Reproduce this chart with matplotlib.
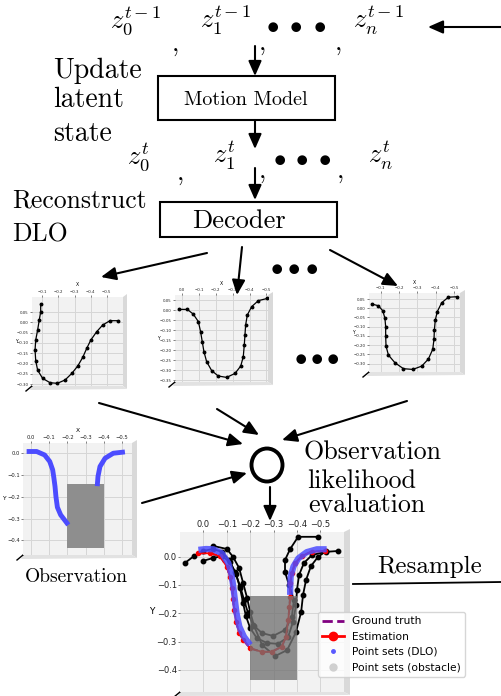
import numpy as np
import matplotlib.pyplot as plt
from matplotlib.patches import Rectangle, Ellipse, Polygon
from matplotlib.lines import Line2D

plt.rcParams['mathtext.fontset'] = 'cm'

W, H = 501, 696

# decoded DLO shapes (three particles)
p1_x = [-0.090, -0.090, -0.081, -0.071, -0.059, -0.055, -0.059, -0.071, -0.102, -0.148, -0.193,
        -0.241, -0.283, -0.320, -0.351, -0.376, -0.401, -0.438, -0.475, -0.520, -0.572]
p1_y = [0.089, 0.051, 0.011, -0.037, -0.086, -0.134, -0.186, -0.232, -0.272, -0.293, -0.296,
        -0.280, -0.248, -0.212, -0.170, -0.126, -0.086, -0.045, -0.013, 0.008, 0.008]
p2_x = [0.018, -0.030, -0.065, -0.096, -0.109, -0.119, -0.129, -0.145, -0.175, -0.214, -0.264,
        -0.314, -0.348, -0.363, -0.369, -0.373, -0.377, -0.387, -0.413, -0.453, -0.507]
p2_y = [0.003, 0.003, -0.020, -0.058, -0.108, -0.158, -0.208, -0.258, -0.303, -0.330, -0.337,
        -0.317, -0.280, -0.233, -0.175, -0.125, -0.075, -0.025, 0.017, 0.047, 0.058]
p3_x = [-0.051, -0.087, -0.111, -0.123, -0.127, -0.127, -0.129, -0.142, -0.178, -0.224, -0.275,
        -0.324, -0.360, -0.384, -0.391, -0.393, -0.398, -0.409, -0.433, -0.469, -0.519]
p3_y = [0.023, 0.014, -0.013, -0.054, -0.100, -0.151, -0.205, -0.254, -0.296, -0.328, -0.332,
        -0.314, -0.276, -0.223, -0.168, -0.118, -0.064, -0.018, 0.030, 0.060, 0.063]

# observation: DLO point set (two visible parts) and obstacle box
obs_left_x = [0.024, -0.031, -0.075, -0.103, -0.119, -0.126, -0.132, -0.137, -0.145, -0.163, -0.187, -0.205]
obs_left_y = [0.008, 0.008, -0.008, -0.038, -0.076, -0.115, -0.153, -0.199, -0.248, -0.283, -0.309, -0.329]
obs_right_x = [-0.364, -0.368, -0.379, -0.407, -0.452, -0.516]
obs_right_y = [-0.151, -0.107, -0.061, -0.023, 0.000, 0.006]
box_x = [-0.2, -0.4]
box_y = [-0.14, -0.435]

# resampled result
dlo_left_x = [0.021, -0.012, -0.043, -0.079, -0.107, -0.121, -0.128, -0.135, -0.142, -0.154, -0.174, -0.200]
dlo_left_y = [0.024, 0.027, 0.026, 0.012, -0.023, -0.065, -0.106, -0.153, -0.200, -0.247, -0.283, -0.312]
dlo_right_x = [-0.371, -0.371, -0.373, -0.385, -0.406, -0.442, -0.485, -0.527]
dlo_right_y = [-0.135, -0.118, -0.071, -0.035, -0.006, 0.016, 0.026, 0.026]
est_x = [0.021, -0.029, -0.071, -0.100, -0.114, -0.124, -0.127, -0.132, -0.140, -0.154, -0.171, -0.200,
         -0.250, -0.292, -0.335, -0.353, -0.363, -0.368, -0.371, -0.371, -0.378, -0.392, -0.421, -0.463, -0.520]
est_y = [0.012, 0.012, 0.002, -0.035, -0.071, -0.112, -0.150, -0.188, -0.230, -0.271, -0.294, -0.324,
         -0.336, -0.336, -0.318, -0.283, -0.224, -0.177, -0.141, -0.094, -0.059, -0.023, 0.002, 0.018, 0.020]
k1_x = [0.078, 0.040, 0.001, -0.041, -0.080, -0.110, -0.135, -0.157, -0.174, -0.191, -0.212, -0.251,
        -0.298, -0.349, -0.378, -0.387, -0.366, -0.349, -0.349, -0.371, -0.405, -0.490]
k1_y = [-0.022, 0.002, 0.020, 0.027, 0.017, -0.012, -0.054, -0.104, -0.153, -0.199, -0.241, -0.270,
        -0.280, -0.259, -0.213, -0.153, -0.100, -0.054, -0.012, 0.027, 0.070, 0.070]
k2_x = [0.001, -0.041, -0.080, -0.114, -0.140, -0.157, -0.170, -0.182, -0.200, -0.229, -0.272,
        -0.319, -0.362, -0.383, -0.396, -0.400, -0.409, -0.430, -0.465, -0.525, -0.576]
k2_y = [-0.015, -0.005, 0.002, -0.019, -0.061, -0.111, -0.164, -0.210, -0.252, -0.288, -0.305,
        -0.308, -0.284, -0.231, -0.171, -0.118, -0.065, -0.022, 0.006, 0.017, 0.020]
k3_x = [-0.041, -0.101, -0.127, -0.153, -0.170, -0.187, -0.200, -0.217, -0.251, -0.307, -0.358,
        -0.396, -0.418, -0.426, -0.439, -0.460, -0.490, -0.525]
k3_y = [0.038, 0.027, -0.001, -0.040, -0.093, -0.146, -0.195, -0.245, -0.312, -0.351, -0.330,
        -0.266, -0.195, -0.135, -0.082, -0.033, -0.001, 0.020]

fig = plt.figure(figsize=(W / 100, H / 100), dpi=100)

bg = fig.add_axes([0, 0, 1, 1])
bg.set_xlim(0, W); bg.set_ylim(H, 0); bg.axis('off')


def panel(x0, y0, x1, y1, xlim, ylim, xticks, yticks, fs, side=6):
    ax = fig.add_axes([x0 / W, 1 - y1 / H, (x1 - x0) / W, (y1 - y0) / H])
    ax.set_facecolor('#f2f2f2')
    ax.set_xlim(xlim); ax.set_ylim(ylim)
    ax.set_xticks(xticks); ax.set_yticks(yticks)
    ax.xaxis.tick_top()
    ax.tick_params(labelsize=fs, length=1.5, width=0.4, pad=0.8, colors='#222222')
    ax.grid(True, color='#d6d6d6', lw=0.7)
    ax.set_axisbelow(True)
    for s in ax.spines.values():
        s.set_visible(False)
    # fake 3d side panes
    bg.add_patch(Polygon([(x1, y0), (x1 + side, y0 - 3), (x1 + side, y1 + 3), (x1, y1)], fc='#d9d9d9', ec='none'))
    bg.add_patch(Polygon([(x0, y1), (x1, y1), (x1 + side, y1 + 3), (x0 - 2, y1 + 4)], fc='#e2e2e2', ec='none'))
    bg.plot([x0 - 6, x0], [y1 + 5, y1], color='k', lw=1)
    return ax


def small_labels(ax, fs, xl, yl):
    ax.xaxis.set_label_position('top')
    ax.set_xlabel('X', fontsize=fs + 0.5)
    ax.xaxis.set_label_coords(xl[0], xl[1])
    ax.set_ylabel('Y', fontsize=fs + 0.5, rotation=0, ha='right', va='center')
    ax.yaxis.set_label_coords(yl[0], yl[1])


xt = [0.0, -0.1, -0.2, -0.3, -0.4, -0.5]
yt_small = [0.05, 0.0, -0.05, -0.10, -0.15, -0.20, -0.25, -0.30]

ax1 = panel(32, 297, 123, 386, (-0.036, -0.601), (-0.309, 0.123), xt[1:], yt_small, 2.8, side=4)
ax1.plot(p1_x, p1_y, 'k-o', lw=0.9, ms=1.8)
small_labels(ax1, 2.8, (0.5, 1.12), (-0.16, 0.5))

ax2 = panel(175, 295, 268, 382, (0.043, -0.510), (-0.36, 0.075), xt, yt_small + [-0.35], 2.8, side=5)
ax2.plot(p2_x, p2_y, 'k-o', lw=0.9, ms=1.8)
small_labels(ax2, 2.8, (0.5, 1.12), (-0.16, 0.5))

ax3 = panel(369, 293, 460, 372, (-0.036, -0.533), (-0.346, 0.083), xt[1:], yt_small, 2.8, side=5)
ax3.plot(p3_x, p3_y, 'k-o', lw=0.9, ms=1.8)
small_labels(ax3, 2.8, (0.5, 1.12), (-0.16, 0.5))

ax4 = panel(23, 443, 132, 555, (0.044, -0.555), (-0.467, 0.047), xt, [0.0, -0.1, -0.2, -0.3, -0.4], 3.8, side=5)
ax4.add_patch(Rectangle((box_x[1], box_y[1]), box_x[0] - box_x[1], box_y[0] - box_y[1],
                        fc='#8e8e8e', ec='none', zorder=2))
ax4.plot(obs_left_x, obs_left_y, color='#4c4cff', lw=3.5, solid_capstyle='butt', zorder=3)
ax4.plot(obs_right_x, obs_right_y, color='#4c4cff', lw=3.5, solid_capstyle='butt', zorder=3)
small_labels(ax4, 3.8, (0.5, 1.1), (-0.155, 0.5))

ax5 = panel(180, 532, 344, 692, (0.0996, -0.601), (-0.478, 0.087), xt, [0.0, -0.1, -0.2, -0.3, -0.4], 6, side=6)
ax5.plot(est_x, est_y, color='purple', ls='--', lw=1.5, zorder=2)
for kx, ky in [(k1_x, k1_y), (k2_x, k2_y), (k3_x, k3_y)]:
    ax5.plot(kx, ky, 'k-o', lw=1.3, ms=3.2, zorder=3)
ax5.plot(est_x, est_y, color='red', marker='o', lw=1.3, ms=3, zorder=4)
ax5.add_patch(Rectangle((box_x[1], box_y[1]), box_x[0] - box_x[1], box_y[0] - box_y[1],
                        fc=(0.45, 0.45, 0.45), alpha=0.78, ec='none', zorder=5))
ax5.plot(dlo_left_x, dlo_left_y, color=(0.3, 0.3, 1.0), alpha=0.85, lw=4.5, solid_capstyle='butt', zorder=6)
ax5.plot(dlo_right_x, dlo_right_y, color=(0.3, 0.3, 1.0), alpha=0.85, lw=4.5, solid_capstyle='butt', zorder=6)
ax5.set_ylabel('Y', fontsize=6.5, rotation=0, ha='right', va='center')
ax5.yaxis.set_label_coords(-0.155, 0.5)
handles = [Line2D([], [], color='purple', ls='--', lw=2),
           Line2D([], [], color='red', marker='o', lw=2, ms=6),
           Line2D([], [], color=(0.35, 0.35, 1.0), marker='.', ls='none', ms=5),
           Line2D([], [], color='#d0d0d0', marker='o', ls='none', ms=5)]
ax5.legend(handles, ['Ground truth', 'Estimation', 'Point sets (DLO)', 'Point sets (obstacle)'],
           loc='upper left', bbox_to_anchor=(318 / W, 1 - 612 / H), bbox_transform=fig.transFigure,
           fontsize=7.7, borderaxespad=0)

# diagram layer on top
ov = fig.add_axes([0, 0, 1, 1])
ov.set_xlim(0, W); ov.set_ylim(H, 0); ov.axis('off'); ov.set_zorder(10)

cm = dict(fontfamily='cmr10', color='k')
arr = dict(arrowstyle='-|>,head_length=0.5,head_width=0.22', color='k', lw=1.5,
           mutation_scale=18, shrinkA=0, shrinkB=0)


def arrow(x0, y0, x1, y1):
    ov.annotate('', xy=(x1, y1), xytext=(x0, y0), arrowprops=arr)


def dots(xs, y):
    for x in xs:
        ov.text(x, y, r'$\bullet$', fontsize=18, ha='center', va='center')


# latent states
ov.text(110, 28, r'$z_0^{t-1}$', fontsize=19, va='baseline')
ov.text(200, 28, r'$z_1^{t-1}$', fontsize=19, va='baseline')
ov.text(353, 28, r'$z_n^{t-1}$', fontsize=19, va='baseline')
for cx, cy in [(175, 45), (262, 44), (338, 44), (180, 174), (262, 172), (340, 172)]:
    ov.text(cx, cy, ',', fontsize=19, ha='center', va='center', **cm)
dots([273, 296, 320], 25)
ov.text(127, 164, r'$z_0^{t}$', fontsize=19, va='baseline')
ov.text(213, 163, r'$z_1^{t}$', fontsize=19, va='baseline')
ov.text(368, 163, r'$z_n^{t}$', fontsize=19, va='baseline')
dots([280, 302, 325], 158)

ov.text(53, 78, 'Update', fontsize=20, va='baseline', **cm)
ov.text(53, 107, 'latent', fontsize=20, va='baseline', **cm)
ov.text(53, 141, 'state', fontsize=20, va='baseline', **cm)
ov.text(12, 208, 'Reconstruct', fontsize=18.5, va='baseline', **cm)
ov.text(12, 242, 'DLO', fontsize=18.5, va='baseline', **cm)

ov.add_patch(Rectangle((158, 76), 177, 44, fc='white', ec='k', lw=1.5))
ov.text(246, 100, 'Motion Model', fontsize=14.5, ha='center', va='center', **cm)
ov.add_patch(Rectangle((160, 202), 177, 35, fc='white', ec='k', lw=1.5))
ov.text(239, 221, 'Decoder', fontsize=19, ha='center', va='center', **cm)

arrow(501, 27, 428, 27)
arrow(255, 46, 255, 76)
arrow(255, 120, 255, 149)
arrow(255, 168, 255, 200)

arrow(207, 253, 101, 277)
arrow(242, 247, 237, 295)
arrow(330, 250, 398, 286)
dots([277, 294, 312], 267)
dots([301, 317, 333], 357)

# likelihood
arrow(99, 403, 243, 444)
arrow(217, 409, 259, 435)
arrow(407, 401, 282, 440)
arrow(142, 503, 247, 473)
ov.add_patch(Ellipse((267, 465), 31, 33, fill=False, ec='k', lw=2.8))
arrow(270, 487, 270, 521)
ov.text(304, 460, 'Observation', fontsize=18.7, va='baseline', **cm)
ov.text(307, 488, 'likelihood', fontsize=18.7, va='baseline', **cm)
ov.text(308, 512, 'evaluation', fontsize=18.7, va='baseline', **cm)

ov.text(25, 582, 'Observation', fontsize=14, va='baseline', **cm)
ov.text(377, 573, 'Resample', fontsize=18, va='baseline', **cm)
ov.plot([353, 501], [584, 582], color='k', lw=1.3)

fig.savefig('out.png', dpi=100)
